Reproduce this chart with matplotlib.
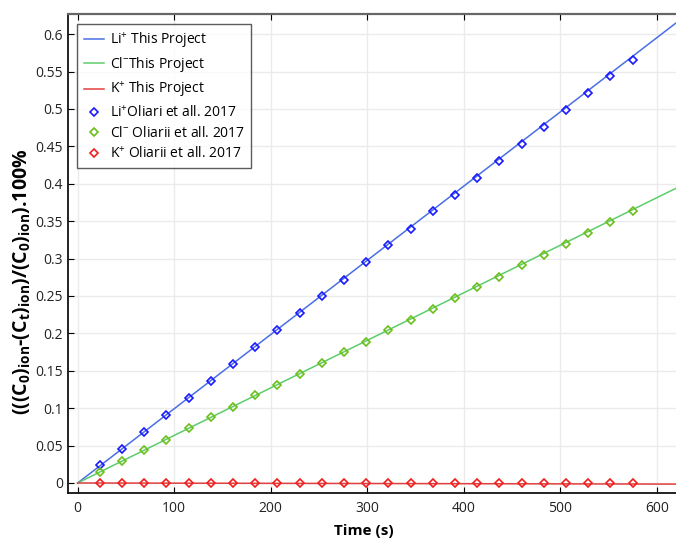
import matplotlib
matplotlib.use("Agg")
import matplotlib.pyplot as plt
import numpy as np

plt.rcParams['font.family'] = ['Open Sans', 'DejaVu Sans']
plt.rcParams['mathtext.default'] = 'regular'

# model curves (straight lines from the simulation)
t_model = [0, 620]
li_model = [0.0, 0.615]
cl_model = [0.0, 0.394]
k_model = [0.0, -0.0015]

# measured values, Oliari et al. 2017
t_meas = [23, 46, 69, 92, 115, 138, 161, 184, 207, 230, 253, 276, 299,
          322, 345, 368, 391, 414, 437, 460, 483, 506, 529, 552, 575]
li_meas = [0.024, 0.046, 0.068, 0.091, 0.114, 0.137, 0.159, 0.182, 0.205,
           0.227, 0.250, 0.272, 0.295, 0.318, 0.340, 0.363, 0.385, 0.408,
           0.430, 0.453, 0.476, 0.499, 0.521, 0.544, 0.566]
cl_meas = [0.015, 0.029, 0.044, 0.058, 0.073, 0.088, 0.102, 0.117, 0.131,
           0.146, 0.160, 0.175, 0.189, 0.204, 0.218, 0.233, 0.247, 0.262,
           0.276, 0.291, 0.305, 0.320, 0.334, 0.349, 0.363]
k_meas = [0.0005, 0.0005, 0.0005, 0.0005, 0.0004, 0.0004, 0.0004, 0.0004,
          0.0003, 0.0003, 0.0003, 0.0003, 0.0002, 0.0002, 0.0002, 0.0002,
          0.0001, 0.0001, 0.0001, 0.0001, 0.0, 0.0, 0.0, 0.0, 0.0]

fig = plt.figure(figsize=(6.76, 5.39), dpi=100)
ax = fig.add_axes([68 / 676, 1 - 493 / 539, 1 - 68 / 676, (493 - 14) / 539])

ax.plot(t_model, li_model, color='#4a6fe3', lw=1.1, label='Li$^{+}$ This Project')
ax.plot(t_model, cl_model, color='#5ccd6a', lw=1.1, label='Cl$^{-}$This Project')
ax.plot(t_model, k_model, color='#e0403f', lw=1.1, label='K$^{+}$ This Project')

mk = dict(ls='none', marker='D', ms=4.0, mfc='none', mew=1.2)
ax.plot(t_meas, li_meas, color='#1a1aff', label='Li$^{+}$Oliari et all. 2017', **mk)
ax.plot(t_meas, cl_meas, color='#6cbf1a', label='Cl$^{-}$ Oliarii et all. 2017', **mk)
ax.plot(t_meas, k_meas, color='#f01e1e', label='K$^{+}$ Oliarii et all. 2017', **mk)

ax.set_xlim(-10, 620)
ax.set_ylim(-0.0134, 0.627)
ax.set_xticks(np.arange(0, 601, 100))
yt = np.round(np.arange(0, 0.601, 0.05), 2)
ax.set_yticks(yt)
ax.set_yticklabels([f'{v:g}' for v in yt])
ax.grid(True, color='#ebebeb', lw=1)
ax.set_axisbelow(True)
ax.tick_params(direction='in', top=True, length=4, labelsize=10, labelcolor='#222222')
ax.tick_params(axis='x', pad=6)
ax.spines['right'].set_visible(False)
ax.spines['top'].set_color('#666666')
ax.spines['top'].set_linewidth(1.6)
for s in ('left', 'bottom'):
    ax.spines[s].set_color('#111111')
    ax.spines[s].set_linewidth(1.3)

ax.set_xlabel('Time (s)', fontsize=11, fontweight='bold')
ax.xaxis.set_label_coords(0.487, -0.064)
ax.set_ylabel('(((C$_0$)$_{ion}$-(C$_t$)$_{ion}$)/(C$_0$)$_{ion}$).100%',
              fontsize=14, fontweight='bold')
ax.yaxis.set_label_coords(-0.058, 0.44)

leg = ax.legend(loc='upper left', bbox_to_anchor=(0.004, 0.994), fontsize=10,
                frameon=True, fancybox=False, edgecolor='#333333',
                handlelength=1.45, handletextpad=0.45, labelspacing=0.38,
                borderpad=0.45)
leg.get_frame().set_linewidth(1.0)

fig.savefig('out.png', dpi=100)
